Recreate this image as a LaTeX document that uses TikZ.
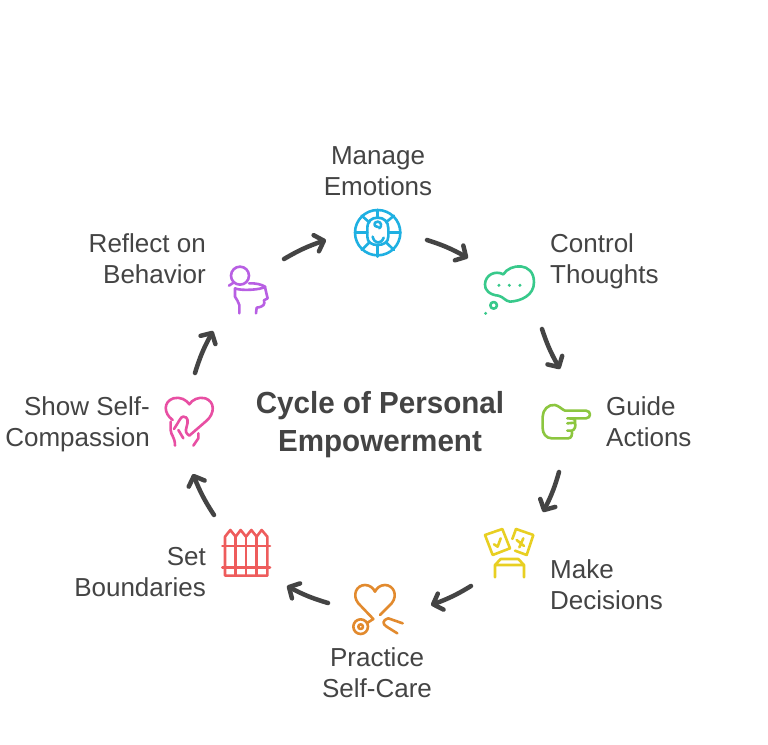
\documentclass[tikz,border=0pt]{standalone}
\usepackage{fontspec}
\setmainfont{Liberation Sans}
\usetikzlibrary{arrows.meta,bending}
\definecolor{ink}{HTML}{444444}
\definecolor{cblue}{HTML}{1FB0E2}
\definecolor{cgreen}{HTML}{38C98B}
\definecolor{clime}{HTML}{8CC63F}
\definecolor{cyellow}{HTML}{E8CF22}
\definecolor{corange}{HTML}{E28A2E}
\definecolor{cred}{HTML}{EE5C5C}
\definecolor{cpink}{HTML}{E84FA3}
\definecolor{cpurple}{HTML}{B85FE3}
\newcommand{\stla}{\rule[-6pt]{0pt}{24pt}}
\newcommand{\stlb}{\rule[-8pt]{0pt}{30pt}}
\tikzset{
  lab/.style={font=\fontsize{26}{31}\selectfont,text=ink,align=center,inner sep=0pt},
  labl/.style={lab,align=left,anchor=west},
  labr/.style={lab,align=right,anchor=east},
  ttl/.style={font=\fontsize{30.5}{38}\bfseries\selectfont\addfontfeature{FakeStretch=0.97},text=ink,align=center,inner sep=0pt},
  flow/.style={draw=ink,line width=4.5pt,line cap=round,line join=round,-{Straight Barb[length=8pt,width=17pt,round,line width=4.5pt,flex=0]}},
  ico/.style={line width=2.6pt,line cap=round,line join=round,x=0.3333pt,y=-0.3333pt},
}
\begin{document}
\begin{tikzpicture}[x=1pt,y=-1pt]
\path[use as bounding box,fill=white] (0,0) rectangle (768,744);
% labels
\node[lab] (manage) at (378,173.5) {\stla Manage\\\stla Emotions};
\node[labl] (control) at (550,261.5) {\stla Control\\\stla Thoughts};
\node[labl] (guide) at (606,424.5) {\stla Guide\\\stla Actions};
\node[labl] (make) at (550,587.5) {\stla Make\\\stla Decisions};
\node[lab] (practice) at (377,675.5) {\stla Practice\\\stla Self-Care};
\node[labr] (set) at (206,574.5) {\stla Set\\\stla Boundaries};
\node[labr] (show) at (150,424.5) {\stla Show Self-\\\stla Compassion};
\node[labr] (reflect) at (206,261.5) {\stla Reflect on\\\stla Behavior};
\node[ttl] (title) at (380,425) {\stlb Cycle of Personal\\\stlb Empowerment};
% connector ends
\coordinate (a1) at (427,240); \coordinate (b1) at (468,258);
\coordinate (a2) at (542,329); \coordinate (b2) at (560,369);
\coordinate (a3) at (559,472); \coordinate (b3) at (543,512);
\coordinate (a4) at (471,586); \coordinate (b4) at (431,605);
\coordinate (a5) at (328,603); \coordinate (b5) at (287,586);
\coordinate (a6) at (214,515); \coordinate (b6) at (193,474);
\coordinate (a7) at (195,373); \coordinate (b7) at (213,331);
\coordinate (a8) at (284,259); \coordinate (b8) at (326,240);
\draw[flow] (a1) to[bend left=6] (b1);
\draw[flow] (a2) to[bend right=6] (b2);
\draw[flow] (a3) to[bend left=6] (b3);
\draw[flow] (a4) to[bend left=6] (b4);
\draw[flow] (a5) to[bend left=6] (b5);
\draw[flow] (a6) to[bend left=6] (b6);
\draw[flow] (a7) to[bend left=6] (b7);
\draw[flow] (a8) to[bend left=6] (b8);
% emotions icon
\begin{scope}[shift={(340,195)},ico,draw=cblue]
\draw (113,113) circle[radius=68];
\draw (82,100) .. controls (82,78) and (95,68) .. (113,68) .. controls (132,68) and (145,80) .. (145,100) -- (145,125) .. controls (145,142) and (130,150) .. (113,150) .. controls (95,150) and (82,142) .. (82,125) -- cycle;
\draw (113,45) -- (113,68) (113,150) -- (113,185) (46,113) -- (82,113) (145,113) -- (181,113);
\draw (65,62) -- (88,82) (162,62) -- (138,82) (65,165) -- (88,142) (162,165) -- (138,142);
\draw (98,125) .. controls (103,148) and (124,148) .. (131,128);
\draw (114,96) .. controls (100,96) and (100,80) .. (113,80) .. controls (125,80) and (126,95) .. (118,100);
\end{scope}
% thoughts icon
\begin{scope}[shift={(340,195)},ico,draw=cgreen]
\draw (490,238) .. controls (510,205) and (582,200) .. (582,262) .. controls (582,300) and (545,318) .. (510,320) .. controls (495,318) and (490,305) .. (475,302) .. controls (450,300) and (433,285) .. (435,268) .. controls (436,240) and (465,225) .. (490,238) -- cycle;
\draw (461,331) circle[radius=10];
\fill[cgreen] (437,355) circle[radius=5] (477,271) circle[radius=5] (508,271) circle[radius=5] (540,271) circle[radius=5];
\end{scope}
% actions icon
\begin{scope}[shift={(470,390)},ico,draw=clime]
\draw (285,62) -- (348,62) .. controls (364,62) and (364,85) .. (348,85) -- (292,85) .. controls (312,85) and (318,88) .. (315,98) -- (292,100) (315,98) .. controls (318,108) and (315,120) .. (305,122) -- (292,122) (305,122) .. controls (308,132) and (305,145) .. (295,145) -- (245,145) .. controls (228,145) and (218,130) .. (218,115) -- (218,80) .. controls (218,60) and (235,42) .. (255,45) .. controls (268,48) and (275,58) .. (285,62);
\end{scope}
% decisions icon
\begin{scope}[shift={(470,390)},ico,draw=cyellow]
\draw (45,435) -- (97,417) -- (120,475) -- (68,495) -- cycle;
\draw (72,463) -- (83,470) -- (92,445);
\draw (138,417) -- (190,435) -- (170,495) -- (135,482);
\draw (138,417) -- (127,447);
\draw (140,450) -- (162,468) (160,445) -- (148,472);
\draw (75,562) -- (75,525) -- (92,507) -- (145,507) -- (162,525) -- (162,562) (75,525) -- (162,525);
\end{scope}
% self-care icon
\begin{scope}[shift={(210,520)},ico,draw=corange]
\draw (510,285) -- (545,250) .. controls (565,225) and (550,195) .. (525,195) .. controls (510,195) and (500,205) .. (495,215) .. controls (490,205) and (480,195) .. (465,195) .. controls (440,195) and (425,225) .. (445,250) -- (490,297) -- (473,308);
\draw (452,320) circle[radius=22];
\draw (452,320) circle[radius=7];
\draw (562,340) -- (530,320) .. controls (518,312) and (515,302) .. (535,295) -- (578,310);
\end{scope}
% boundaries icon
\begin{scope}[shift={(210,520)},ico,draw=cred]
\draw (45,167) -- (45,50) -- (61,30) -- (77,50) -- (92,30) -- (108,50) -- (124,30) -- (140,50) -- (155,30) -- (172,50) -- (172,167) -- cycle;
\draw (77,50) -- (77,167) (108,50) -- (108,167) (140,50) -- (140,167);
\draw (37,78) -- (180,78) (37,142) -- (180,142);
\end{scope}
% compassion icon
\begin{scope}[shift={(150,255)},ico,draw=cpink]
\draw (68,495) .. controls (40,475) and (40,440) .. (70,430) .. controls (90,424) and (110,435) .. (118,448) .. controls (126,435) and (146,424) .. (166,430) .. controls (195,440) and (195,475) .. (170,497) -- (118,542) .. controls (108,535) and (105,530) .. (110,515) .. controls (115,500) and (115,485) .. (100,485) .. controls (92,485) and (90,495) .. (72,522);
\draw (62,500) -- (62,525) .. controls (62,540) and (75,545) .. (75,572);
\draw (145,535) -- (145,550) -- (130,572);
\draw (85,525) -- (100,550);
\end{scope}
% reflect icon
\begin{scope}[shift={(150,255)},ico,draw=cpurple]
\draw (270,62) circle[radius=27];
\draw (252,82) -- (237,92);
\draw (255,100) .. controls (270,108) and (335,105) .. (345,95) .. controls (335,88) and (315,84) .. (297,85);
\draw (255,100) -- (255,125) .. controls (258,135) and (268,140) .. (268,150) -- (268,175);
\draw (345,95) .. controls (348,110) and (350,120) .. (353,130) -- (342,136) .. controls (345,148) and (342,155) .. (320,158) -- (318,175);
\end{scope}
\end{tikzpicture}
\end{document}
